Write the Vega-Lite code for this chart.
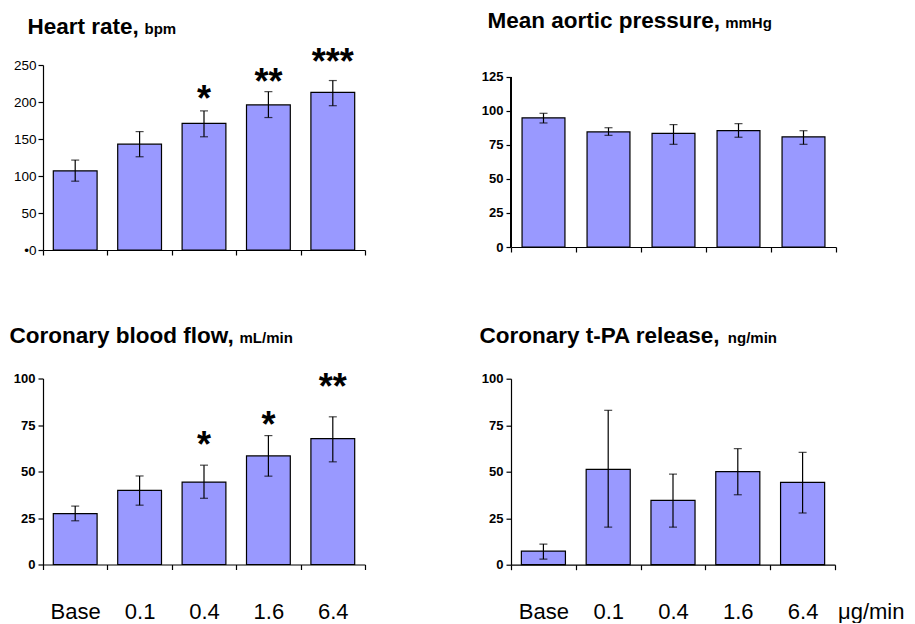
{
  "$schema": "https://vega.github.io/schema/vega-lite/v6.json",
  "padding": {"left": 9, "top": 9, "right": 0, "bottom": 0},
  "datasets": {
    "hr": [
      {"dose": "Base", "value": 107, "lo": 93, "hi": 121.5},
      {"dose": "0.1", "value": 143, "lo": 126, "hi": 160},
      {"dose": "0.4", "value": 171, "lo": 153, "hi": 188},
      {"dose": "1.6", "value": 196, "lo": 179, "hi": 214},
      {"dose": "6.4", "value": 213, "lo": 195, "hi": 229}
    ],
    "hrStars": [
      {"dose": "0.4", "star": "*", "pos": 214},
      {"dose": "1.6", "star": "**", "pos": 237},
      {"dose": "6.4", "star": "***", "pos": 264}
    ],
    "map": [
      {"dose": "Base", "value": 95, "lo": 91.2, "hi": 98.3},
      {"dose": "0.1", "value": 84.6, "lo": 82.1, "hi": 87.7},
      {"dose": "0.4", "value": 83.6, "lo": 75.5, "hi": 90},
      {"dose": "1.6", "value": 85.5, "lo": 80.7, "hi": 90.7},
      {"dose": "6.4", "value": 81, "lo": 75.5, "hi": 85.5}
    ],
    "cbf": [
      {"dose": "Base", "value": 27.4, "lo": 23.5, "hi": 31.4},
      {"dose": "0.1", "value": 39.8, "lo": 31.9, "hi": 47.6},
      {"dose": "0.4", "value": 44.3, "lo": 35.6, "hi": 53.4},
      {"dose": "1.6", "value": 58.4, "lo": 47.5, "hi": 69.3},
      {"dose": "6.4", "value": 67.7, "lo": 55.2, "hi": 79.4}
    ],
    "cbfStars": [
      {"dose": "0.4", "star": "*", "pos": 68},
      {"dose": "1.6", "star": "*", "pos": 78.5},
      {"dose": "6.4", "star": "**", "pos": 99}
    ],
    "tpa": [
      {"dose": "Base", "value": 7.3, "lo": 3.0, "hi": 11.1},
      {"dose": "0.1", "value": 51.3, "lo": 20.2, "hi": 83},
      {"dose": "0.4", "value": 34.6, "lo": 20.2, "hi": 48.7},
      {"dose": "1.6", "value": 50, "lo": 37.6, "hi": 62.4},
      {"dose": "6.4", "value": 44.3, "lo": 27.8, "hi": 60.4}
    ]
  },
  "hconcat": [
    {
      "spacing": 67.5,
      "vconcat": [
        {
          "width": 322, "height": 185,
          "data": {"name": "hr"},
          "encoding": {
            "x": {"field": "dose", "type": "nominal", "sort": ["Base", "0.1", "0.4", "1.6", "6.4"],
              "scale": {"paddingInner": 0, "paddingOuter": 0},
              "axis": {"labels": false, "tickBand": "extent", "title": "bpm", "titleX": 101, "titleY": -216.3, "titleAngle": 0, "titleAlign": "left", "titleBaseline": "alphabetic", "titleFontSize": 15, "titleFontWeight": "bold"}}
          },
          "layer": [
            {"mark": {"type": "bar", "fill": "#9999FF", "stroke": "#000000", "strokeWidth": 1.2, "width": {"band": 0.68}},
             "encoding": {"y": {"field": "value", "type": "quantitative", "scale": {"domain": [0, 250], "nice": false},
               "axis": {"values": [0, 50, 100, 150, 200, 250], "labelExpr": "datum.value === 0 ? '•0' : datum.label", "labelFontSize": 13.5, "labelFontWeight": "normal", "labelPadding": 2, "title": "Heart rate,", "titleX": -16, "titleY": -31.3, "titleAngle": 0, "titleAlign": "left", "titleBaseline": "alphabetic", "titleFontSize": 22.5, "titleFontWeight": "bold"}}}},
            {"mark": {"type": "rule", "color": "#000000", "strokeWidth": 1.2},
             "encoding": {"y": {"field": "lo", "type": "quantitative", "scale": {"domain": [0, 250], "nice": false},
               "axis": {"values": [0, 50, 100, 150, 200, 250], "labelExpr": "datum.value === 0 ? '•0' : datum.label", "labelFontSize": 13.5, "labelFontWeight": "normal", "labelPadding": 2, "title": "Heart rate,", "titleX": -16, "titleY": -31.3, "titleAngle": 0, "titleAlign": "left", "titleBaseline": "alphabetic", "titleFontSize": 22.5, "titleFontWeight": "bold"}}, "y2": {"field": "hi"}}},
            {"mark": {"type": "tick", "color": "#000000", "thickness": 1.2, "size": 8},
             "encoding": {"y": {"field": "lo", "type": "quantitative", "scale": {"domain": [0, 250], "nice": false},
               "axis": {"values": [0, 50, 100, 150, 200, 250], "labelExpr": "datum.value === 0 ? '•0' : datum.label", "labelFontSize": 13.5, "labelFontWeight": "normal", "labelPadding": 2, "title": "Heart rate,", "titleX": -16, "titleY": -31.3, "titleAngle": 0, "titleAlign": "left", "titleBaseline": "alphabetic", "titleFontSize": 22.5, "titleFontWeight": "bold"}}}},
            {"mark": {"type": "tick", "color": "#000000", "thickness": 1.2, "size": 8},
             "encoding": {"y": {"field": "hi", "type": "quantitative", "scale": {"domain": [0, 250], "nice": false},
               "axis": {"values": [0, 50, 100, 150, 200, 250], "labelExpr": "datum.value === 0 ? '•0' : datum.label", "labelFontSize": 13.5, "labelFontWeight": "normal", "labelPadding": 2, "title": "Heart rate,", "titleX": -16, "titleY": -31.3, "titleAngle": 0, "titleAlign": "left", "titleBaseline": "alphabetic", "titleFontSize": 22.5, "titleFontWeight": "bold"}}}},
            {"data": {"name": "hrStars"},
             "mark": {"type": "text", "fontSize": 36, "fontWeight": "bold", "baseline": "alphabetic", "dy": 19, "color": "#000000"},
             "encoding": {"y": {"field": "pos", "type": "quantitative", "scale": {"domain": [0, 250], "nice": false},
               "axis": {"values": [0, 50, 100, 150, 200, 250], "labelExpr": "datum.value === 0 ? '•0' : datum.label", "labelFontSize": 13.5, "labelFontWeight": "normal", "labelPadding": 2, "title": "Heart rate,", "titleX": -16, "titleY": -31.3, "titleAngle": 0, "titleAlign": "left", "titleBaseline": "alphabetic", "titleFontSize": 22.5, "titleFontWeight": "bold"}}, "text": {"field": "star"}}}
          ]
        },
        {
          "width": 322, "height": 186,
          "data": {"name": "cbf"},
          "encoding": {
            "x": {"field": "dose", "type": "nominal", "sort": ["Base", "0.1", "0.4", "1.6", "6.4"],
              "scale": {"paddingInner": 0, "paddingOuter": 0},
              "axis": {"labelAngle": 0, "labelFontSize": 22, "labelFontWeight": "normal", "labelPadding": 32, "tickBand": "extent", "title": "mL/min", "titleX": 196, "titleY": -221.7, "titleAngle": 0, "titleAlign": "left", "titleBaseline": "alphabetic", "titleFontSize": 15, "titleFontWeight": "bold"}}
          },
          "layer": [
            {"mark": {"type": "bar", "fill": "#9999FF", "stroke": "#000000", "strokeWidth": 1.2, "width": {"band": 0.68}},
             "encoding": {"y": {"field": "value", "type": "quantitative", "scale": {"domain": [0, 100], "nice": false},
               "axis": {"values": [0, 25, 50, 75, 100], "labelFontSize": 13, "labelFontWeight": "bold", "labelPadding": 3, "title": "Coronary blood flow,", "titleX": -34, "titleY": -35.7, "titleAngle": 0, "titleAlign": "left", "titleBaseline": "alphabetic", "titleFontSize": 22.5, "titleFontWeight": "bold"}}}},
            {"mark": {"type": "rule", "color": "#000000", "strokeWidth": 1.2},
             "encoding": {"y": {"field": "lo", "type": "quantitative", "scale": {"domain": [0, 100], "nice": false},
               "axis": {"values": [0, 25, 50, 75, 100], "labelFontSize": 13, "labelFontWeight": "bold", "labelPadding": 3, "title": "Coronary blood flow,", "titleX": -34, "titleY": -35.7, "titleAngle": 0, "titleAlign": "left", "titleBaseline": "alphabetic", "titleFontSize": 22.5, "titleFontWeight": "bold"}}, "y2": {"field": "hi"}}},
            {"mark": {"type": "tick", "color": "#000000", "thickness": 1.2, "size": 8},
             "encoding": {"y": {"field": "lo", "type": "quantitative", "scale": {"domain": [0, 100], "nice": false},
               "axis": {"values": [0, 25, 50, 75, 100], "labelFontSize": 13, "labelFontWeight": "bold", "labelPadding": 3, "title": "Coronary blood flow,", "titleX": -34, "titleY": -35.7, "titleAngle": 0, "titleAlign": "left", "titleBaseline": "alphabetic", "titleFontSize": 22.5, "titleFontWeight": "bold"}}}},
            {"mark": {"type": "tick", "color": "#000000", "thickness": 1.2, "size": 8},
             "encoding": {"y": {"field": "hi", "type": "quantitative", "scale": {"domain": [0, 100], "nice": false},
               "axis": {"values": [0, 25, 50, 75, 100], "labelFontSize": 13, "labelFontWeight": "bold", "labelPadding": 3, "title": "Coronary blood flow,", "titleX": -34, "titleY": -35.7, "titleAngle": 0, "titleAlign": "left", "titleBaseline": "alphabetic", "titleFontSize": 22.5, "titleFontWeight": "bold"}}}},
            {"data": {"name": "cbfStars"},
             "mark": {"type": "text", "fontSize": 36, "fontWeight": "bold", "baseline": "alphabetic", "dy": 19, "color": "#000000"},
             "encoding": {"y": {"field": "pos", "type": "quantitative", "scale": {"domain": [0, 100], "nice": false},
               "axis": {"values": [0, 25, 50, 75, 100], "labelFontSize": 13, "labelFontWeight": "bold", "labelPadding": 3, "title": "Coronary blood flow,", "titleX": -34, "titleY": -35.7, "titleAngle": 0, "titleAlign": "left", "titleBaseline": "alphabetic", "titleFontSize": 22.5, "titleFontWeight": "bold"}}, "text": {"field": "star"}}}
          ]
        }
      ]
    },
    {
      "spacing": 69.7,
      "vconcat": [
        {
          "width": 325, "height": 182,
          "data": {"name": "map"},
          "encoding": {
            "x": {"field": "dose", "type": "nominal", "sort": ["Base", "0.1", "0.4", "1.6", "6.4"],
              "scale": {"paddingInner": 0, "paddingOuter": 0},
              "axis": {"labels": false, "tickBand": "extent", "title": "mmHg", "titleX": 213.7, "titleY": -219.3, "titleAngle": 0, "titleAlign": "left", "titleBaseline": "alphabetic", "titleFontSize": 15, "titleFontWeight": "bold"}}
          },
          "layer": [
            {"mark": {"type": "bar", "fill": "#9999FF", "stroke": "#000000", "strokeWidth": 1.2, "width": {"band": 0.66}},
             "encoding": {"y": {"field": "value", "type": "quantitative", "scale": {"domain": [0, 133.82], "nice": false},
               "axis": {"values": [0, 25, 50, 75, 100, 125], "domain": false, "labelFontSize": 13, "labelFontWeight": "bold", "labelPadding": 3, "title": "Mean aortic pressure,", "titleX": -24, "titleY": -37.3, "titleAngle": 0, "titleAlign": "left", "titleBaseline": "alphabetic", "titleFontSize": 22.5, "titleFontWeight": "bold"}}}},
            {"mark": {"type": "rule", "color": "#000000", "strokeWidth": 1.2},
             "encoding": {"y": {"field": "lo", "type": "quantitative", "scale": {"domain": [0, 133.82], "nice": false},
               "axis": {"values": [0, 25, 50, 75, 100, 125], "domain": false, "labelFontSize": 13, "labelFontWeight": "bold", "labelPadding": 3, "title": "Mean aortic pressure,", "titleX": -24, "titleY": -37.3, "titleAngle": 0, "titleAlign": "left", "titleBaseline": "alphabetic", "titleFontSize": 22.5, "titleFontWeight": "bold"}}, "y2": {"field": "hi"}}},
            {"mark": {"type": "tick", "color": "#000000", "thickness": 1.2, "size": 8},
             "encoding": {"y": {"field": "lo", "type": "quantitative", "scale": {"domain": [0, 133.82], "nice": false},
               "axis": {"values": [0, 25, 50, 75, 100, 125], "domain": false, "labelFontSize": 13, "labelFontWeight": "bold", "labelPadding": 3, "title": "Mean aortic pressure,", "titleX": -24, "titleY": -37.3, "titleAngle": 0, "titleAlign": "left", "titleBaseline": "alphabetic", "titleFontSize": 22.5, "titleFontWeight": "bold"}}}},
            {"mark": {"type": "tick", "color": "#000000", "thickness": 1.2, "size": 8},
             "encoding": {"y": {"field": "hi", "type": "quantitative", "scale": {"domain": [0, 133.82], "nice": false},
               "axis": {"values": [0, 25, 50, 75, 100, 125], "domain": false, "labelFontSize": 13, "labelFontWeight": "bold", "labelPadding": 3, "title": "Mean aortic pressure,", "titleX": -24, "titleY": -37.3, "titleAngle": 0, "titleAlign": "left", "titleBaseline": "alphabetic", "titleFontSize": 22.5, "titleFontWeight": "bold"}}}},
            {"mark": {"type": "rule", "color": "#000000", "strokeWidth": 1.2},
             "encoding": {
               "x": {"datum": "Base", "type": "nominal", "bandPosition": 0, "scale": {"paddingInner": 0, "paddingOuter": 0},
                 "axis": {"labels": false, "tickBand": "extent", "title": "mmHg", "titleX": 213.7, "titleY": -219.3, "titleAngle": 0, "titleAlign": "left", "titleBaseline": "alphabetic", "titleFontSize": 15, "titleFontWeight": "bold"}},
               "y": {"datum": 0, "type": "quantitative", "scale": {"domain": [0, 133.82], "nice": false},
               "axis": {"values": [0, 25, 50, 75, 100, 125], "domain": false, "labelFontSize": 13, "labelFontWeight": "bold", "labelPadding": 3, "title": "Mean aortic pressure,", "titleX": -24, "titleY": -37.3, "titleAngle": 0, "titleAlign": "left", "titleBaseline": "alphabetic", "titleFontSize": 22.5, "titleFontWeight": "bold"}},
               "y2": {"datum": 125}}}
          ]
        },
        {
          "width": 324, "height": 186,
          "data": {"name": "tpa"},
          "title": {"text": "μg/min", "orient": "bottom", "anchor": "end", "frame": "group", "align": "left", "baseline": "top", "offset": 0, "dx": 3, "dy": -21, "fontSize": 22, "fontWeight": "normal", "color": "#000000"},
          "encoding": {
            "x": {"field": "dose", "type": "nominal", "sort": ["Base", "0.1", "0.4", "1.6", "6.4"],
              "scale": {"paddingInner": 0, "paddingOuter": 0},
              "axis": {"labelAngle": 0, "labelFontSize": 22, "labelFontWeight": "normal", "labelPadding": 32, "tickBand": "extent", "title": "ng/min", "titleX": 216.3, "titleY": -222.3, "titleAngle": 0, "titleAlign": "left", "titleBaseline": "alphabetic", "titleFontSize": 15, "titleFontWeight": "bold"}}
          },
          "layer": [
            {"mark": {"type": "bar", "fill": "#9999FF", "stroke": "#000000", "strokeWidth": 1.2, "width": {"band": 0.68}},
             "encoding": {"y": {"field": "value", "type": "quantitative", "scale": {"domain": [0, 100], "nice": false},
               "axis": {"values": [0, 25, 50, 75, 100], "labelFontSize": 13, "labelFontWeight": "bold", "labelPadding": 3, "title": "Coronary t-PA release,", "titleX": -32, "titleY": -36.3, "titleAngle": 0, "titleAlign": "left", "titleBaseline": "alphabetic", "titleFontSize": 22.5, "titleFontWeight": "bold"}}}},
            {"mark": {"type": "rule", "color": "#000000", "strokeWidth": 1.2},
             "encoding": {"y": {"field": "lo", "type": "quantitative", "scale": {"domain": [0, 100], "nice": false},
               "axis": {"values": [0, 25, 50, 75, 100], "labelFontSize": 13, "labelFontWeight": "bold", "labelPadding": 3, "title": "Coronary t-PA release,", "titleX": -32, "titleY": -36.3, "titleAngle": 0, "titleAlign": "left", "titleBaseline": "alphabetic", "titleFontSize": 22.5, "titleFontWeight": "bold"}}, "y2": {"field": "hi"}}},
            {"mark": {"type": "tick", "color": "#000000", "thickness": 1.2, "size": 8},
             "encoding": {"y": {"field": "lo", "type": "quantitative", "scale": {"domain": [0, 100], "nice": false},
               "axis": {"values": [0, 25, 50, 75, 100], "labelFontSize": 13, "labelFontWeight": "bold", "labelPadding": 3, "title": "Coronary t-PA release,", "titleX": -32, "titleY": -36.3, "titleAngle": 0, "titleAlign": "left", "titleBaseline": "alphabetic", "titleFontSize": 22.5, "titleFontWeight": "bold"}}}},
            {"mark": {"type": "tick", "color": "#000000", "thickness": 1.2, "size": 8},
             "encoding": {"y": {"field": "hi", "type": "quantitative", "scale": {"domain": [0, 100], "nice": false},
               "axis": {"values": [0, 25, 50, 75, 100], "labelFontSize": 13, "labelFontWeight": "bold", "labelPadding": 3, "title": "Coronary t-PA release,", "titleX": -32, "titleY": -36.3, "titleAngle": 0, "titleAlign": "left", "titleBaseline": "alphabetic", "titleFontSize": 22.5, "titleFontWeight": "bold"}}}}
          ]
        }
      ]
    }
  ],
  "spacing": 113,
  "config": {
    "font": "Liberation Sans",
    "view": {"stroke": null},
    "axis": {"grid": false, "domainColor": "#000000", "domainWidth": 1.2, "tickColor": "#000000", "tickWidth": 1.2, "tickSize": 5, "labelColor": "#000000", "titleColor": "#000000", "labelFont": "Liberation Sans", "titleFont": "Liberation Sans"},
    "title": {"font": "Liberation Sans"}
  }
}
